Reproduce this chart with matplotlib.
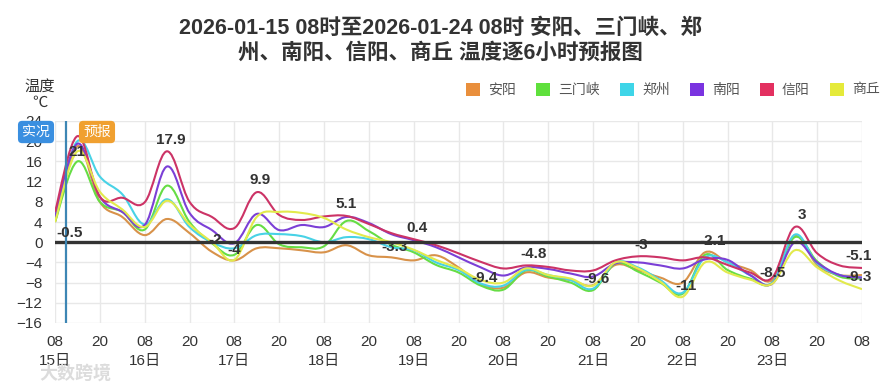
import matplotlib
matplotlib.use("Agg")
import matplotlib.pyplot as plt
from matplotlib.path import Path
from matplotlib.patches import PathPatch, Rectangle

plt.rcParams["font.family"] = ["Liberation Sans", "Noto Sans CJK SC", "DejaVu Sans"]

# hours after 2026-01-15 08:00, every 6 h
hours = list(range(0, 217, 6))

anyang = [4, 19, 8, 5, 1.4, 4.6, 1.8, -1.9, -3.6, -1.2, -1.2, -1.6, -2, -0.6, -2.6, -3, -3.6, -2.6, -5,
          -8.3, -9, -6, -7, -7.5, -8.5, -4.5, -5.5, -7, -8, -2, -4, -5.5, -7.5, 1.2, -4.5, -6.5, -6.5]
sanmenxia = [4, 16, 8, 6, 2.5, 11.2, 4, -0.2, -2.5, 3.4, -0.4, -1, -0.8, 4.2, 2.2, -0.5, -2, -4.5, -6,
             -8.6, -9.4, -5.6, -6.8, -8, -9.5, -4.2, -5.8, -8, -10.2, -2.5, -5.5, -7.2, -8, 1, -3.8, -6.8, -7.2]
zhengzhou = [5, 20, 13, 9.5, 3.5, 8.5, 3, 0, -1.2, 1.4, 1.6, 1.2, 0, 1, 0.6, -1, -1.6, -4, -5.5,
             -8.2, -8.6, -5.5, -6.5, -7.5, -9.2, -4, -5, -7.5, -10, -3, -4, -6.5, -8, 1.5, -4.2, -6.5, -7]
nanyang = [5, 19.5, 9, 6, 3.4, 15, 5.8, 2.4, -0.2, 5.6, 2.4, 3.4, 3, 5, 3.8, 1.6, 0.4, -1, -3,
           -5, -6.6, -5, -5.3, -6.2, -6.8, -4.2, -4, -4.6, -5.2, -3.4, -3.5, -6.5, -8.2, 0, -4, -6.5, -7]
xinyang = [6, 21, 9, 8.8, 7.9, 18, 8, 5, 2.8, 9.9, 5.4, 4.4, 5.1, 5.2, 3.6, 1.8, 0.6, -0.6, -2.2,
           -3.9, -5.2, -4.6, -4.9, -5.6, -5.6, -3.6, -2.8, -3, -3.6, -3, -4.5, -6, -7, 3, -2.2, -4.6, -5.1]
shangqiu = [4, 18, 10, 6.5, 3, 8.2, 3.5, 0, -3.5, 5, 6, 5.8, 4.8, 2.5, 1, 0, -1.5, -3.5, -5.2,
            -7.5, -8, -5.2, -6.5, -7.2, -8.6, -4, -5.2, -7.8, -10.8, -4, -6, -7.4, -8.2, -1.6, -5, -7.6, -9.3]

names = ["安阳", "三门峡", "郑州", "南阳", "信阳", "商丘"]
series = [anyang, sanmenxia, zhengzhou, nanyang, xinyang, shangqiu]
line_colors = ["#d8924a", "#66dd44", "#48d2e6", "#7b3fd6", "#cc3366", "#e2ea4c"]
legend_colors = ["#e98f3c", "#5fe03c", "#3ed5e8", "#7a33e0", "#e33060", "#e5ea3a"]

# max / min labels: hour, value, text
label_hours = [6, 4, 31, 43, 48, 55, 78, 91, 97, 115, 128, 145, 157, 169, 176, 192, 200, 215, 215]
label_vals = [21, -0.5, 17.9, -2, -4, 9.9, 5.1, -3.3, 0.4, -9.4, -4.8, -9.6, -3, -11, -2.1, -8.5, 3, -5.1, -9.3]
label_texts = ["21", "-0.5", "17.9", "-2", "-4", "9.9", "5.1", "-3.3", "0.4", "-9.4", "-4.8", "-9.6",
               "-3", "-11", "-2.1", "-8.5", "3", "-5.1", "-9.3"]

tick_hours = list(range(0, 217, 12))
tick_labels = []
for i, h in enumerate(tick_hours):
    if i % 2 == 0 and h < 216:
        tick_labels.append("08\n%d日" % (15 + i // 2))
    elif i % 2 == 0:
        tick_labels.append("08\n ")
    else:
        tick_labels.append("20\n ")


def smooth_path(x, y, k=0.18):
    n = len(x)
    verts = [(x[0], y[0])]
    codes = [Path.MOVETO]
    for i in range(n - 1):
        x0, y0 = x[max(i - 1, 0)], y[max(i - 1, 0)]
        x3, y3 = x[min(i + 2, n - 1)], y[min(i + 2, n - 1)]
        c1 = (x[i] + k * (x[i + 1] - x0), y[i] + k * (y[i + 1] - y0))
        c2 = (x[i + 1] - k * (x3 - x[i]), y[i + 1] - k * (y3 - y[i]))
        verts += [c1, c2, (x[i + 1], y[i + 1])]
        codes += [Path.CURVE4] * 3
    return Path(verts, codes)


fig = plt.figure(figsize=(8.8, 3.88), dpi=100)
ax = fig.add_axes([55 / 880, 1 - 323 / 388, 807 / 880, 202 / 388])
ax.set_xlim(0, 216)
ax.set_ylim(-16, 24)
ax.set_yticks(range(-16, 25, 4))
ax.set_xticks(tick_hours)
ax.set_xticklabels(tick_labels, linespacing=1.45)
ax.grid(True, color="#e8e8e8", lw=1)
for s in ax.spines.values():
    s.set_visible(False)
ax.tick_params(length=0, labelsize=11, labelcolor="#333333")
ax.tick_params(axis="y", pad=9)
ax.tick_params(axis="x", pad=9)

for vals, c in zip(series, line_colors):
    ax.add_patch(PathPatch(smooth_path(hours, vals), fill=False, ec=c, lw=1.5, zorder=3))

ax.axhline(0, color="#333333", lw=2.4, zorder=4)
ax.axvline(3, color="#3d86b4", lw=1.6, zorder=4)

for h, v, t in zip(label_hours, label_vals, label_texts):
    dy = -16 if t == "21" else 12
    ax.annotate(t, (h, v), xytext=(0, dy), textcoords="offset pixels", ha="center", va="center",
                fontsize=11, fontweight="bold", color="#333333", annotation_clip=False, zorder=6)

# title
fig.text(0.5, 1 - 28 / 388, "2026-01-15 08时至2026-01-24 08时 安阳、三门峡、郑",
         ha="center", va="center", fontsize=15.5, fontweight="bold", color="#333333")
fig.text(0.5, 1 - 53 / 388, "州、南阳、信阳、商丘 温度逐6小时预报图",
         ha="center", va="center", fontsize=15.5, fontweight="bold", color="#333333")

fig.text(40 / 880, 1 - 87 / 388, "温度", ha="center", va="center", fontsize=11, color="#333333")
fig.text(40 / 880, 1 - 103 / 388, "℃", ha="center", va="center", fontsize=11, color="#333333")

# legend
sq_x = [466, 536, 620, 690, 760, 830]
for x0, name, c in zip(sq_x, names, legend_colors):
    fig.add_artist(Rectangle((x0 / 880, 1 - 96 / 388), 14 / 880, 13 / 388,
                             transform=fig.transFigure, fc=c, ec="none"))
    fig.text((x0 + 22) / 880, 1 - 89.5 / 388, name, ha="left", va="center", fontsize=10, color="#555555")

# observed / forecast tags
fig.text(36 / 880, 1 - 132 / 388, "实况", ha="center", va="center", fontsize=10, color="white", zorder=10,
         bbox=dict(boxstyle="round,pad=0.3", fc="#3a8fe0", ec="none"))
fig.text(97 / 880, 1 - 132 / 388, "预报", ha="center", va="center", fontsize=10, color="white", zorder=10,
         bbox=dict(boxstyle="round,pad=0.3", fc="#f0a030", ec="none"))

fig.text(75 / 880, 1 - 374 / 388, "大数跨境", ha="center", va="center", fontsize=13, color="#dcdcdc",
         fontweight="bold", zorder=10)

fig.savefig("out.png", dpi=100)
